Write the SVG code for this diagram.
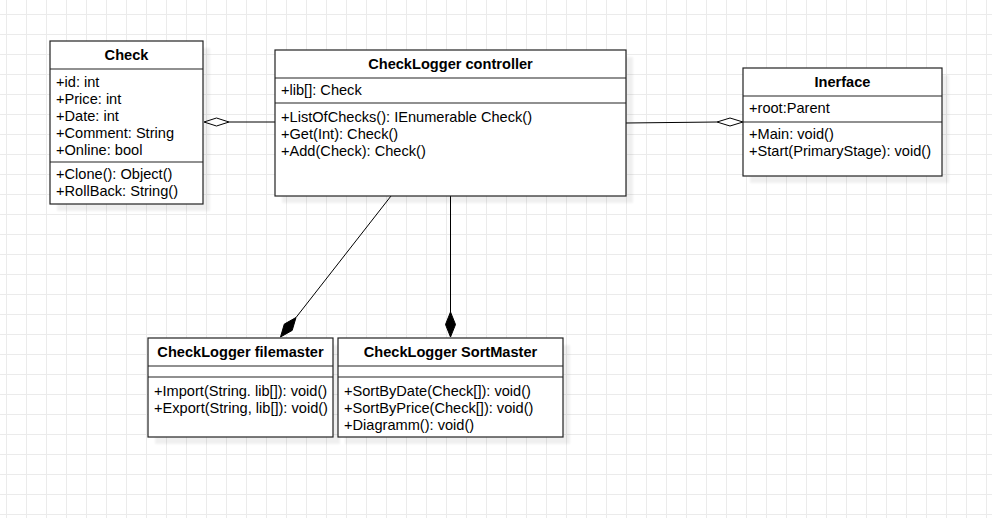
<svg xmlns="http://www.w3.org/2000/svg" width="992" height="518" viewBox="0 0 992 518">
<defs>
<pattern id="grid" x="6" y="14" width="20" height="20" patternUnits="userSpaceOnUse">
<path d="M0.5 0 V20 M0 0.5 H20" fill="none" stroke="#ebebeb" stroke-width="1"/>
</pattern>
<filter id="sh" x="-10%" y="-10%" width="130%" height="130%">
<feGaussianBlur stdDeviation="1.2"/>
</filter>
</defs>
<style>
.box{fill:#fff;stroke:#222;stroke-width:1.2}
.shadow{fill:#000;opacity:0.06}
.sep{stroke:#222;stroke-width:1.2}
.title{font-family:"Liberation Sans",Arial,sans-serif;font-size:14.6px;font-weight:bold;fill:#000;text-anchor:middle}
.t{font-family:"Liberation Sans",Arial,sans-serif;font-size:14.6px;fill:#000}
.ln{stroke:#000;stroke-width:1;fill:none}
.hollow{fill:#fff;stroke:#000;stroke-width:1}
.filled{fill:#000;stroke:#000;stroke-width:1}
</style>
<rect x="0" y="0" width="992" height="518" fill="#fff"/>
<rect x="0" y="0" width="992" height="518" fill="url(#grid)"/>

<g id="connectors">
<line class="ln" x1="229" y1="122" x2="275" y2="122"/>
<polygon class="hollow" points="204,122 216.5,118 229,122 216.5,126"/>
<line class="ln" x1="626" y1="123" x2="717" y2="122"/>
<polygon class="hollow" points="717,122 730,118 743,122 730,126"/>
<line class="ln" x1="391" y1="196" x2="296" y2="317.5"/>
<polygon class="filled" points="280.5,337 292.2,330.4 296,317.5 284.3,324.1"/>
<line class="ln" x1="450.5" y1="196" x2="450.5" y2="312"/>
<polygon class="filled" points="450.5,337 455.5,324.5 450.5,312 445.5,324.5"/>
</g>

<g id="check">
<rect class="shadow" x="57" y="48" width="153" height="163" filter="url(#sh)"/>
<rect class="box" x="50" y="41" width="153" height="163"/>
<line class="sep" x1="50" y1="69" x2="203" y2="69"/>
<line class="sep" x1="50" y1="162" x2="203" y2="162"/>
<text class="title" x="126.5" y="60">Check</text>
<text class="t" x="56" y="86.5">+id: int</text>
<text class="t" x="56" y="103.5">+Price: int</text>
<text class="t" x="56" y="120.5">+Date: int</text>
<text class="t" x="56" y="137.5">+Comment: String</text>
<text class="t" x="56" y="154.5">+Online: bool</text>
<text class="t" x="56" y="179">+Clone(): Object()</text>
<text class="t" x="56" y="196">+RollBack: String()</text>
</g>

<g id="controller">
<rect class="shadow" x="282" y="57" width="351" height="146" filter="url(#sh)"/>
<rect class="box" x="275" y="50" width="351" height="146"/>
<line class="sep" x1="275" y1="78" x2="626" y2="78"/>
<line class="sep" x1="275" y1="103" x2="626" y2="103"/>
<text class="title" x="450.5" y="69">CheckLogger controller</text>
<text class="t" x="281" y="95">+lib[]: Check</text>
<text class="t" x="281" y="121.5">+ListOfChecks(): IEnumerable Check()</text>
<text class="t" x="281" y="138.5">+Get(Int): Check()</text>
<text class="t" x="281" y="155.5">+Add(Check): Check()</text>
</g>

<g id="inerface">
<rect class="shadow" x="750" y="75" width="199" height="108" filter="url(#sh)"/>
<rect class="box" x="743" y="68" width="199" height="108"/>
<line class="sep" x1="743" y1="96" x2="942" y2="96"/>
<line class="sep" x1="743" y1="122" x2="942" y2="122"/>
<text class="title" x="842.5" y="86.5">Inerface</text>
<text class="t" x="749" y="113">+root:Parent</text>
<text class="t" x="749" y="139">+Main: void()</text>
<text class="t" x="749" y="156">+Start(PrimaryStage): void()</text>
</g>

<g id="filemaster">
<rect class="shadow" x="155" y="345" width="185" height="99" filter="url(#sh)"/>
<rect class="box" x="148" y="338" width="185" height="99"/>
<line class="sep" x1="148" y1="366" x2="333" y2="366"/>
<line class="sep" x1="148" y1="377" x2="333" y2="377"/>
<text class="title" x="240.5" y="357">CheckLogger filemaster</text>
<text class="t" x="154" y="395.5">+Import(String. lib[]): void()</text>
<text class="t" x="154" y="412.5">+Export(String, lib[]): void()</text>
</g>

<g id="sortmaster">
<rect class="shadow" x="345" y="345" width="225" height="99" filter="url(#sh)"/>
<rect class="box" x="338" y="338" width="225" height="99"/>
<line class="sep" x1="338" y1="366" x2="563" y2="366"/>
<line class="sep" x1="338" y1="377" x2="563" y2="377"/>
<text class="title" x="450.5" y="357">CheckLogger SortMaster</text>
<text class="t" x="344" y="395.5">+SortByDate(Check[]): void()</text>
<text class="t" x="344" y="412.5">+SortByPrice(Check[]): void()</text>
<text class="t" x="344" y="429.5">+Diagramm(): void()</text>
</g>
</svg>
